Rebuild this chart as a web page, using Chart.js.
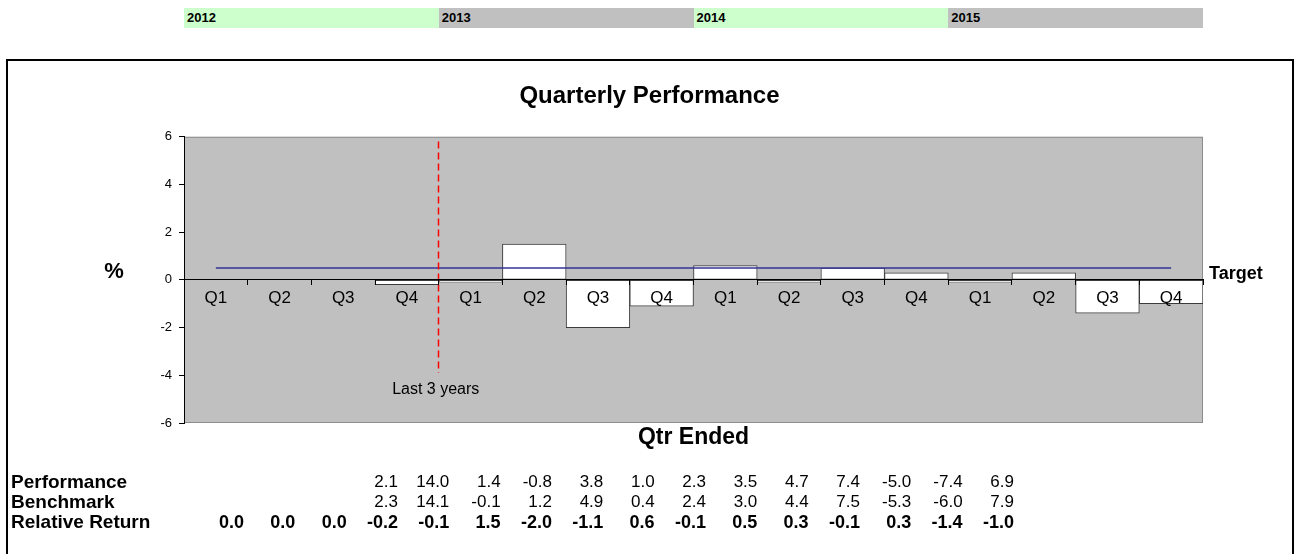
<!DOCTYPE html>
<html>
<head>
<meta charset="utf-8">
<script src="https://cdn.jsdelivr.net/npm/chart.js@4.4.1/dist/chart.umd.min.js"></script>
<style>
  body { margin:0; width:1299px; height:554px; overflow:hidden; background:#fff; position:relative;
         font-family:"Liberation Sans", Arial, sans-serif; }
  #frame { position:absolute; left:6px; top:59px; width:1288px; height:520px; border:2px solid #000; box-sizing:border-box; }
  #chart { position:absolute; left:0; top:0; }
  .band { position:absolute; top:8px; height:20px; line-height:20px; font-size:13px; font-weight:bold;
          padding-left:3px; box-sizing:border-box; }
  .cell { position:absolute; height:20px; line-height:20px; font-size:17px; white-space:nowrap; color:#000; }
  .bold { font-weight:bold; font-size:18px; }
  .rowlab { font-weight:bold; font-size:19px; }
</style>
</head>
<body>
<div id="frame"></div>
<div id="bands"></div>
<canvas id="chart" width="1299" height="554"></canvas>
<div id="table"></div>
<script>
// Data
const quarters = ['Q1','Q2','Q3','Q4','Q1','Q2','Q3','Q4','Q1','Q2','Q3','Q4','Q1','Q2','Q3','Q4'];
const years = ['2012', '2013', '2014', '2015'];
const relReturn = [0.0, 0.0, 0.0, -0.2, -0.1, 1.5, -2.0, -1.1, 0.6, -0.1, 0.5, 0.3, -0.1, 0.3, -1.4, -1.0];
const perfReturn = [null, null, null, 2.1, 14.0, 1.4, -0.8, 3.8, 1.0, 2.3, 3.5, 4.7, 7.4, -5.0, -7.4, 6.9];
const benchReturn = [null, null, null, 2.3, 14.1, -0.1, 1.2, 4.9, 0.4, 2.4, 3.0, 4.4, 7.5, -5.3, -6.0, 7.9];
const targetLine = [0.5, 0.5, 0.5, 0.5, 0.5, 0.5, 0.5, 0.5, 0.5, 0.5, 0.5, 0.5, 0.5, 0.5, 0.5, 0.5];
const yTicks = [-6, -4, -2, 0, 2, 4, 6];
const rowLabels = ['Performance', 'Benchmark', 'Relative Return'];

const FONT = '"Liberation Sans", Arial, sans-serif';

// Grey plot area with thin border
const plotBg = {
  id: 'plotBg',
  beforeDraw(chart) {
    const { ctx, chartArea: a } = chart;
    ctx.save();
    ctx.fillStyle = '#c0c0c0';
    ctx.fillRect(a.left, a.top, a.width, a.height);
    ctx.strokeStyle = '#8c8c8c';
    ctx.lineWidth = 1;
    ctx.strokeRect(a.left + 0.5, a.top + 0.5, a.width - 1, a.height - 1);
    ctx.restore();
  }
};

// Red dashed divider before the last 3 years
const divider = {
  id: 'divider',
  afterDatasetsDraw(chart) {
    const { ctx, scales: { x, y } } = chart;
    const px = Math.round((x.getPixelForValue(3) + x.getPixelForValue(4)) / 2) - 0.5;
    ctx.save();
    ctx.strokeStyle = '#ff0000';
    ctx.lineWidth = 1.5;
    ctx.setLineDash([7, 4]);
    ctx.beginPath();
    ctx.moveTo(px, y.getPixelForValue(5.8));
    ctx.lineTo(px, y.getPixelForValue(-3.9));
    ctx.stroke();
    ctx.restore();
  }
};

// Free text around the plot
const labels = {
  id: 'labels',
  afterDraw(chart) {
    const { ctx, chartArea: a, scales: { x, y } } = chart;
    const px = (x.getPixelForValue(3) + x.getPixelForValue(4)) / 2;
    ctx.save();
    ctx.fillStyle = '#000';
    ctx.textBaseline = 'middle';
    ctx.textAlign = 'center';
    ctx.font = '16px ' + FONT;
    ctx.fillText('Last 3 years', px - 3, y.getPixelForValue(-4.6));
    ctx.font = 'bold 22px ' + FONT;
    ctx.fillText('%', 114, y.getPixelForValue(0) - 8);
    ctx.font = 'bold 23px ' + FONT;
    ctx.fillText('Qtr Ended', (a.left + a.right) / 2, a.bottom + 15);
    ctx.textAlign = 'left';
    ctx.font = 'bold 18px ' + FONT;
    ctx.fillText('Target', a.right + 6, y.getPixelForValue(0) - 6);
    ctx.restore();
  }
};

const chart = new Chart(document.getElementById('chart'), {
  data: {
    labels: quarters,
    datasets: [
      {
        type: 'line', label: 'Target', data: targetLine, order: 0,
        borderColor: '#333399', borderWidth: 1.5, pointRadius: 0, fill: false
      },
      {
        type: 'bar', label: 'Relative Return', data: relReturn, order: 1,
        backgroundColor: '#ffffff', borderColor: '#3a3a3a', borderWidth: 1, borderSkipped: false,
        barPercentage: 1, categoryPercentage: 1
      }
    ]
  },
  options: {
    responsive: false,
    animation: false,
    devicePixelRatio: 1,
    layout: { padding: { left: 96, right: 96, top: 82, bottom: 131 } },
    plugins: {
      legend: { display: false },
      tooltip: { enabled: false },
      title: {
        display: true, text: 'Quarterly Performance', color: '#000',
        font: { family: FONT, size: 24, weight: 'bold' },
        padding: { top: 0, bottom: 26 }
      }
    },
    scales: {
      x: {
        position: { y: 0 },
        offset: true,
        grid: { drawOnChartArea: false, offset: true, tickLength: 5, color: '#000', z: 1 },
        border: { color: '#000', width: 1, z: 1 },
        ticks: { color: '#000', padding: 3, maxRotation: 0, z: 1, font: { family: FONT, size: 17 } }
      },
      y: {
        min: yTicks[0], max: yTicks[yTicks.length - 1],
        afterFit(scale) { scale.width = 88; },
        afterBuildTicks(scale) { scale.ticks = yTicks.map(v => ({ value: v })); },
        grid: { drawOnChartArea: false, tickLength: 5, color: '#000' },
        border: { color: '#000', width: 1 },
        ticks: { color: '#000', padding: 7, font: { family: FONT, size: 13 } }
      }
    }
  },
  plugins: [plotBg, divider, labels]
});

// Year bands above the plot, aligned to the chart area
const area = chart.chartArea;
const bandW = (area.right - area.left) / years.length;
const bands = document.getElementById('bands');
years.forEach((yr, i) => {
  const d = document.createElement('div');
  d.className = 'band';
  d.style.left = (area.left + i * bandW) + 'px';
  d.style.width = bandW + 'px';
  d.style.background = i % 2 === 0 ? '#ccffcc' : '#c0c0c0';
  d.textContent = yr;
  bands.appendChild(d);
});

// Data table under the chart
const table = document.getElementById('table');
const rows = [perfReturn, benchReturn, relReturn];
const rowTop = 472, rowStep = 20, colRight0 = 244, colStep = 51.33;
rows.forEach((vals, r) => {
  const top = rowTop + r * rowStep;
  const lab = document.createElement('div');
  lab.className = 'cell rowlab';
  lab.style.left = '11px';
  lab.style.top = top + 'px';
  lab.textContent = rowLabels[r];
  table.appendChild(lab);
  vals.forEach((v, i) => {
    if (v === null) return;
    const c = document.createElement('div');
    c.className = 'cell' + (r === 2 ? ' bold' : '');
    c.style.left = (colRight0 + i * colStep - 60) + 'px';
    c.style.width = '60px';
    c.style.textAlign = 'right';
    c.style.top = top + 'px';
    c.textContent = v.toFixed(1);
    table.appendChild(c);
  });
});
</script>
</body>
</html>
